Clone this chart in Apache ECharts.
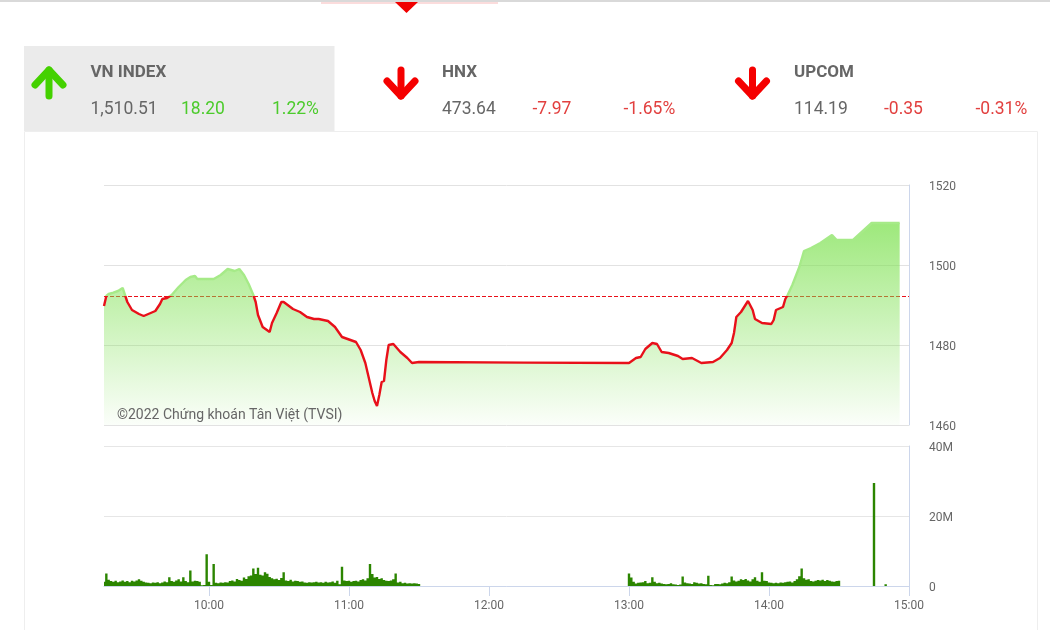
<!DOCTYPE html>
<html>
<head>
<meta charset="utf-8">
<style>html,body{margin:0;padding:0;background:#fff}#c{width:1050px;height:630px}</style>
<script src="https://cdn.jsdelivr.net/npm/echarts@6/dist/echarts.min.js"></script>
</head>
<body>
<div id="c"></div>
<script>
const previousClose = 1492.31;
const priceTimes = ['09:15','09:16','09:17','09:19','09:21','09:23','09:24','09:25','09:27','09:30','09:32','09:35','09:37','09:39','09:40','09:42','09:44','09:47','09:50','09:52','09:54','09:55','09:59','10:02','10:05','10:08','10:11','10:13','10:15','10:17','10:19','10:20','10:21','10:23','10:26','10:27','10:29','10:31','10:32','10:36','10:39','10:42','10:45','10:47','10:51','10:54','10:57','11:03','11:05','11:07','11:08','11:10','11:11','11:12','11:13','11:14','11:15','11:16','11:17','11:19','11:22','11:25','11:27','11:30','12:15','13:00','13:03','13:05','13:07','13:10','13:12','13:14','13:17','13:21','13:23','13:27','13:31','13:36','13:39','13:42','13:44','13:45','13:46','13:48','13:51','13:53','13:54','13:57','14:01','14:02','14:03','14:06','14:07','14:08','14:10','14:13','14:15','14:18','14:22','14:27','14:29','14:36','14:44','14:56'];
const priceValues = [1489.75,1492.25,1492.75,1493.1,1493.5,1494.25,1492.5,1490.75,1488.75,1487.75,1487.25,1488,1488.5,1490.25,1491.5,1491.75,1492.5,1494.5,1496.25,1497,1497.25,1496.5,1496.5,1496.5,1497.5,1499,1498.5,1499,1497.5,1495.25,1492.5,1490.75,1487.5,1484.5,1483.25,1485.5,1488,1490.75,1490.75,1489,1488.25,1487,1486.5,1486.5,1486,1484.5,1482,1480.75,1478.75,1475.5,1473,1468,1466,1464.75,1467.5,1470.75,1471,1476.25,1480,1480.25,1478.25,1476.75,1475.5,1475.75,1475.6,1475.5,1476.75,1477,1479,1480.5,1480.25,1478.25,1478,1477.25,1476.5,1476.75,1475.5,1475.75,1476.75,1478.75,1480.5,1483,1487,1488.25,1491,1488.75,1486.5,1485.5,1485.25,1486.25,1488.75,1489.5,1491.5,1492.5,1495,1499.5,1503.5,1504.25,1505.5,1507.5,1506.25,1506.25,1510.5,1510.51];
// Volume in millions, one value per minute
const morningStart = '09:15';
const morningVolume = [1.2,3.6,1.8,1.4,1.2,1.5,1.1,1.3,1.6,1.2,1.4,1.1,1.5,1.3,1.6,1.9,1.5,1.2,1.0,0.9,0.8,1.0,0.9,1.1,0.8,1.0,1.3,1.1,2.5,1.4,1.2,1.6,1.9,1.3,2.5,1.4,1.1,4.4,1.3,1.5,1.4,1.2,0.2,0.3,9.1,1.2,0.3,6.3,0.9,0.8,1.0,0.9,1.1,1.0,1.4,1.6,1.3,2.0,1.7,1.5,2.4,2.0,2.8,3.0,5.0,3.4,5.2,3.2,3.0,3.9,3.5,2.6,2.2,1.9,2.1,1.7,2.3,3.9,1.6,1.4,1.8,1.3,1.5,1.4,1.2,1.3,1.0,0.9,1.1,1.0,1.1,1.2,1.0,1.1,0.9,1.2,1.0,1.1,1.3,0.9,1.5,0.5,5.5,1.6,1.4,1.5,1.2,1.4,1.5,1.3,1.7,1.9,1.6,2.2,6.3,3.4,2.4,2.6,2.0,2.2,1.7,1.5,1.4,1.6,1.9,3.6,1.0,1.2,0.8,0.9,0.7,0.8,0.7,0.8,0.7,0.6];
const afternoonStart = '13:00';
const afternoonVolume = [3.6,2.4,1.2,0.7,0.9,1.0,1.1,1.4,0.8,0.9,2.5,1.2,0.8,0.9,0.7,0.6,0.5,0.6,0.8,0.5,0.4,0.3,0.4,2.7,1.0,0.8,0.7,0.6,1.1,0.9,0.7,0.8,0.6,0.5,2.9,0.3,0.2,0.6,0.6,0.5,0.7,0.9,0.8,1.1,2.7,1.6,1.3,1.5,1.9,1.7,2.0,1.6,1.3,1.9,2.5,1.5,1.2,3.9,1.5,1.4,1.0,0.9,0.8,0.9,0.8,1.0,0.9,1.1,1.2,1.3,1.0,1.4,1.9,2.8,5.0,2.2,1.8,1.9,1.4,1.3,1.5,1.7,1.6,1.8,1.4,1.7,1.5,1.3,1.2,1.4,1.5];
const closingTimes = ['14:45','14:50'];
const closingVolume = [29.4,0.5];
const priceTicks = [1460,1480,1500,1520];
const volumeTicks = [0,20,40];
const indexCards = [
  {name:'VN INDEX',value:'1,510.51',change:'18.20',pct:'1.22%'},
  {name:'HNX',value:'473.64',change:'-7.97',pct:'-1.65%'},
  {name:'UPCOM',value:'114.19',change:'-0.35',pct:'-0.31%'}
];
const watermark = '©2022 Chứng khoán Tân Việt (TVSI)';

const pad = n => String(n).padStart(2,'0');
const label = m => pad(Math.floor(m/60))+':'+pad(m%60);
const minutes = s => +s.slice(0,2)*60 + +s.slice(3);
const times = [];
for (let m = 555; m <= 900; m++) times.push(label(m));
const onHour = (i,name) => name.endsWith(':00');

const volumeSeries = [];
morningVolume.forEach((v,i)=>volumeSeries.push([minutes(morningStart)-555+i, v*1e6]));
afternoonVolume.forEach((v,i)=>volumeSeries.push([minutes(afternoonStart)-555+i, v*1e6]));
closingVolume.forEach((v,i)=>volumeSeries.push([minutes(closingTimes[i])-555, v*1e6]));

const FONT = 'Roboto';
const GRAY = '#666666', GREEN = '#4ccb2c', RED = '#e2403f';
const graphics = [
  {type:'rect',shape:{x:0,y:0,width:1050,height:2},style:{fill:'#d9d9d9'},silent:true},
  {type:'rect',shape:{x:321,y:2,width:177,height:2},style:{fill:'#fbdcdc'},silent:true},
  {type:'polygon',shape:{points:[[395,2],[418,2],[406.5,13]]},style:{fill:'#f00000'},silent:true},
  {type:'rect',shape:{x:24,y:46,width:310.5,height:85},style:{fill:'#ebebeb'},silent:true},
  {type:'rect',shape:{x:24.5,y:131.5,width:1013,height:510},style:{fill:'none',stroke:'#eeeeee',lineWidth:1},silent:true}
];
const arrow = (x,up,color)=>{
  const [a,b,c] = up ? [96,70,85] : [70,96,81];
  const st = {fill:'none',stroke:color,lineWidth:7,lineCap:'round',lineJoin:'round'};
  graphics.push({type:'polyline',shape:{points:[[x,a],[x,b]]},style:st,silent:true});
  graphics.push({type:'polyline',shape:{points:[[x-14,c],[x,b],[x+14,c]]},style:st,silent:true});
};
arrow(49,true,'#44d100'); arrow(401,false,'#f50000'); arrow(752.5,false,'#f50000');
const txt = (x,y,text,fill,size,weight)=>graphics.push({type:'text',x,y,silent:true,z:10,style:{text,fill,font:(weight||'normal')+' '+size+'px '+FONT,textVerticalAlign:'middle',textAlign:'left'}});
[[90.5,181,272],[442,532.5,623.5],[794,884,975.5]].forEach((xs,i)=>{
  const c = indexCards[i], col = i===0?GREEN:RED;
  txt(xs[0],72.5,c.name,GRAY,17,'bold');
  txt(xs[0],109.5,c.value,GRAY,17.5);
  txt(xs[1],109.5,c.change,col,17.5);
  txt(xs[2],109.5,c.pct,col,17.5);
});
txt(117,415.5,watermark,GRAY,14);

const tickRich = {a:{color:GRAY,fontSize:12,fontFamily:FONT,padding:[3,0,0,0]}};
const chart = echarts.init(document.getElementById('c'),null,{width:1050,height:630});
chart.setOption({
  animation:false,
  backgroundColor:'#ffffff',
  textStyle:{fontFamily:FONT},
  graphic:graphics,
  grid:[
    {left:104,width:805,top:185,height:240},
    {left:104,width:805,top:446,height:140}
  ],
  xAxis:[
    {type:'category',gridIndex:0,data:times,boundaryGap:false,axisLine:{show:false},axisTick:{show:false},axisLabel:{show:false},splitLine:{show:false}},
    {type:'category',gridIndex:1,data:times,boundaryGap:false,
     axisLine:{lineStyle:{color:'#ccd6eb'}},
     axisTick:{interval:onHour,length:10,lineStyle:{color:'#ccd6eb'}},
     axisLabel:{interval:onHour,color:GRAY,fontSize:12,fontFamily:FONT,margin:14,hideOverlap:false},
     splitLine:{show:false}}
  ],
  yAxis:[
    {type:'value',gridIndex:0,position:'right',min:priceTicks[0],max:priceTicks[3],interval:20,
     axisLine:{show:true,lineStyle:{color:'#ccd6eb'}},axisTick:{show:false},
     axisLabel:{margin:20,rich:tickRich,formatter:v=>'{a|'+v+'}'},
     splitLine:{lineStyle:{color:'#e2e2e2'}}},
    {type:'value',gridIndex:1,position:'right',min:volumeTicks[0],max:volumeTicks[2]*1e6,interval:volumeTicks[1]*1e6,
     axisLine:{show:true,lineStyle:{color:'#ccd6eb'}},axisTick:{show:false},
     axisLabel:{margin:20,rich:tickRich,formatter:v=>'{a|'+(v===0?'0':(v/1e6)+'M')+'}'},
     splitLine:{lineStyle:{color:'#e6e6e6'}}}
  ],
  visualMap:{show:false,type:'piecewise',seriesIndex:0,dimension:1,
    pieces:[{gte:priceTicks[0],lte:previousClose,color:'#e8101a'},{gt:previousClose,lte:priceTicks[3],color:'#a6ea88'}]},
  series:[
    {type:'line',name:'VN INDEX',xAxisIndex:0,yAxisIndex:0,showSymbol:false,symbol:'none',silent:true,
     data:priceTimes.map((t,i)=>[times.indexOf(t),priceValues[i]]),
     lineStyle:{width:2.4},
     areaStyle:{opacity:1,origin:'start',color:new echarts.graphic.LinearGradient(0,0,0,1,[{offset:0,color:'rgba(125,225,80,0.75)'},{offset:1,color:'rgba(125,225,80,0.03)'}])},
     markLine:{silent:true,z:1,symbol:'none',label:{show:false},animation:false,
       data:[{yAxis:previousClose}],lineStyle:{color:'#e8101a',type:[4,2],width:1}}},
    {type:'bar',name:'Volume',xAxisIndex:1,yAxisIndex:1,silent:true,barWidth:2.4,large:true,largeThreshold:1,
     data:volumeSeries,itemStyle:{color:'#2b8500'}}
  ]
});
</script>
</body>
</html>
